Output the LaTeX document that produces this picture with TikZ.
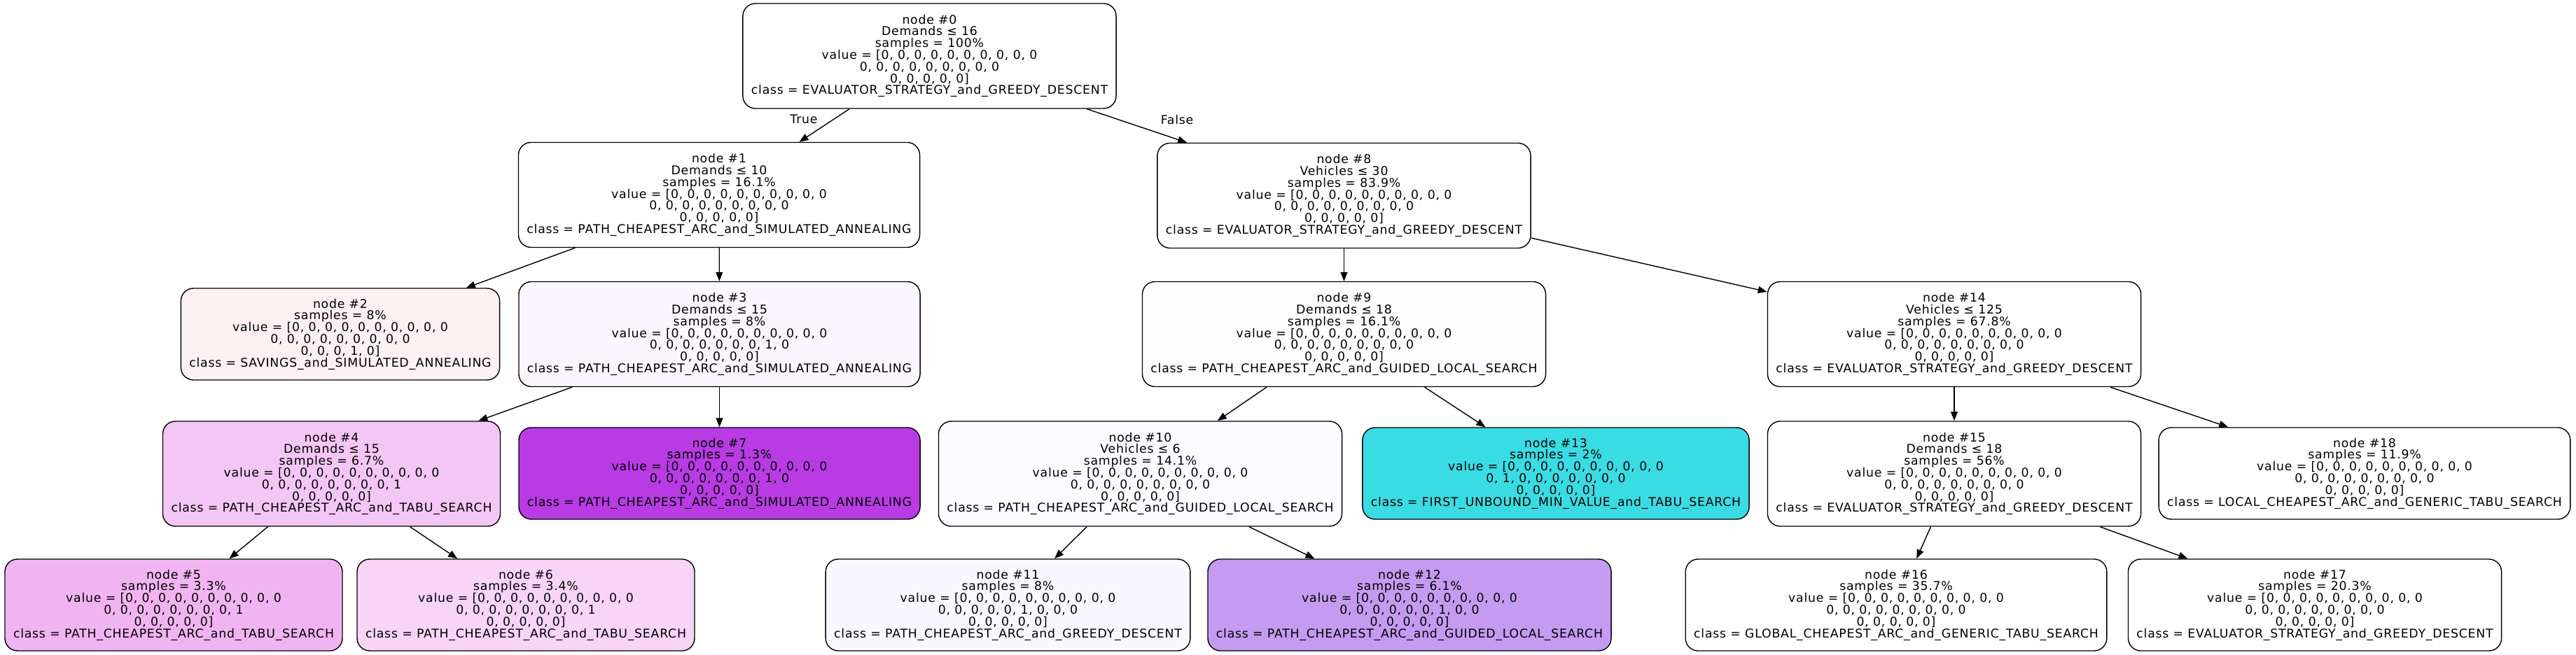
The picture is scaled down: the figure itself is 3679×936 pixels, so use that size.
\documentclass[tikz,border=0pt]{standalone}
\usepackage{fontspec}
\setmainfont{DejaVu Sans}[LetterSpace=4.4]
\usetikzlibrary{arrows.meta}
\definecolor{c2}{HTML}{FDF1F3}
\definecolor{c3}{HTML}{FBF5FD}
\definecolor{c4}{HTML}{F4C6F5}
\definecolor{c5}{HTML}{F1B4F2}
\definecolor{c6}{HTML}{F8D4F7}
\definecolor{c7}{HTML}{B93BE4}
\definecolor{c9}{HTML}{FDFDFF}
\definecolor{c10}{HTML}{FCFBFF}
\definecolor{c11}{HTML}{F9F8FE}
\definecolor{c12}{HTML}{C49BF1}
\definecolor{c13}{HTML}{3ADCE4}
\tikzset{
  tn/.style={draw=black, line width=1.4pt, rounded corners=18pt, align=center,
    inner xsep=12pt, inner ysep=0pt, fill=white,
    font=\fontsize{17.3}{16.8}\selectfont},
  bigbox/.style={tn, minimum height=150pt},
  smallbox/.style={tn, minimum height=131pt},
  conn/.style={line width=1.4pt, -{Triangle[length=13pt,width=10pt]}},
  elabel/.style={font=\fontsize{17.3}{16.8}\selectfont, inner sep=0pt}
}
\newcommand{\zr}{0, 0, 0, 0, 0, 0, 0, 0, 0}
\begin{document}
\begin{tikzpicture}[x=1pt,y=-1pt]
\useasboundingbox (0,0) rectangle (3679,936);
% row 0
\node[bigbox] (n0) at (1327.5,80) {node \#0\\Demands ≤ 16\\samples = 100\%\\value = [\zr, 0\\\zr\\0, 0, 0, 0, 0]\\class = EVALUATOR\_STRATEGY\_and\_GREEDY\_DESCENT};
% row 1
\node[bigbox] (n1) at (1027,278.5) {node \#1\\Demands ≤ 10\\samples = 16.1\%\\value = [\zr, 0\\\zr\\0, 0, 0, 0, 0]\\class = PATH\_CHEAPEST\_ARC\_and\_SIMULATED\_ANNEALING};
\node[bigbox] (n8) at (1919.5,279.5) {node \#8\\Vehicles ≤ 30\\samples = 83.9\%\\value = [\zr, 0\\\zr\\0, 0, 0, 0, 0]\\class = EVALUATOR\_STRATEGY\_and\_GREEDY\_DESCENT};
% row 2
\node[smallbox, fill=c2] (n2) at (486,477.5) {node \#2\\samples = 8\%\\value = [\zr, 0\\\zr\\0, 0, 0, 1, 0]\\class = SAVINGS\_and\_SIMULATED\_ANNEALING};
\node[bigbox, fill=c3] (n3) at (1027.5,477.5) {node \#3\\Demands ≤ 15\\samples = 8\%\\value = [\zr, 0\\0, 0, 0, 0, 0, 0, 0, 1, 0\\0, 0, 0, 0, 0]\\class = PATH\_CHEAPEST\_ARC\_and\_SIMULATED\_ANNEALING};
\node[bigbox, fill=c9] (n9) at (1919.5,477.5) {node \#9\\Demands ≤ 18\\samples = 16.1\%\\value = [\zr, 0\\\zr\\0, 0, 0, 0, 0]\\class = PATH\_CHEAPEST\_ARC\_and\_GUIDED\_LOCAL\_SEARCH};
\node[bigbox] (n14) at (2791,477.5) {node \#14\\Vehicles ≤ 125\\samples = 67.8\%\\value = [\zr, 0\\\zr\\0, 0, 0, 0, 0]\\class = EVALUATOR\_STRATEGY\_and\_GREEDY\_DESCENT};
% row 3
\node[bigbox, fill=c4] (n4) at (473.5,677) {node \#4\\Demands ≤ 15\\samples = 6.7\%\\value = [\zr, 0\\0, 0, 0, 0, 0, 0, 0, 0, 1\\0, 0, 0, 0, 0]\\class = PATH\_CHEAPEST\_ARC\_and\_TABU\_SEARCH};
\node[smallbox, fill=c7] (n7) at (1027.5,676.5) {node \#7\\samples = 1.3\%\\value = [\zr, 0\\0, 0, 0, 0, 0, 0, 0, 1, 0\\0, 0, 0, 0, 0]\\class = PATH\_CHEAPEST\_ARC\_and\_SIMULATED\_ANNEALING};
\node[bigbox, fill=c10] (n10) at (1628.5,677) {node \#10\\Vehicles ≤ 6\\samples = 14.1\%\\value = [\zr, 0\\\zr\\0, 0, 0, 0, 0]\\class = PATH\_CHEAPEST\_ARC\_and\_GUIDED\_LOCAL\_SEARCH};
\node[smallbox, fill=c13] (n13) at (2222,676.5) {node \#13\\samples = 2\%\\value = [\zr, 0\\0, 1, 0, 0, 0, 0, 0, 0, 0\\0, 0, 0, 0, 0]\\class = FIRST\_UNBOUND\_MIN\_VALUE\_and\_TABU\_SEARCH};
\node[bigbox] (n15) at (2791,677) {node \#15\\Demands ≤ 18\\samples = 56\%\\value = [\zr, 0\\\zr\\0, 0, 0, 0, 0]\\class = EVALUATOR\_STRATEGY\_and\_GREEDY\_DESCENT};
\node[smallbox] (n18) at (3377,676.5) {node \#18\\samples = 11.9\%\\value = [\zr, 0\\\zr\\0, 0, 0, 0, 0]\\class = LOCAL\_CHEAPEST\_ARC\_and\_GENERIC\_TABU\_SEARCH};
% row 4
\node[smallbox, fill=c5] (n5) at (248,864.5) {node \#5\\samples = 3.3\%\\value = [\zr, 0\\0, 0, 0, 0, 0, 0, 0, 0, 1\\0, 0, 0, 0, 0]\\class = PATH\_CHEAPEST\_ARC\_and\_TABU\_SEARCH};
\node[smallbox, fill=c6] (n6) at (751,864.5) {node \#6\\samples = 3.4\%\\value = [\zr, 0\\0, 0, 0, 0, 0, 0, 0, 0, 1\\0, 0, 0, 0, 0]\\class = PATH\_CHEAPEST\_ARC\_and\_TABU\_SEARCH};
\node[smallbox, fill=c11] (n11) at (1439.5,864.5) {node \#11\\samples = 8\%\\value = [\zr, 0\\0, 0, 0, 0, 0, 1, 0, 0, 0\\0, 0, 0, 0, 0]\\class = PATH\_CHEAPEST\_ARC\_and\_GREEDY\_DESCENT};
\node[smallbox, fill=c12] (n12) at (2013,864.5) {node \#12\\samples = 6.1\%\\value = [\zr, 0\\0, 0, 0, 0, 0, 0, 1, 0, 0\\0, 0, 0, 0, 0]\\class = PATH\_CHEAPEST\_ARC\_and\_GUIDED\_LOCAL\_SEARCH};
\node[smallbox] (n16) at (2708,864.5) {node \#16\\samples = 35.7\%\\value = [\zr, 0\\\zr\\0, 0, 0, 0, 0]\\class = GLOBAL\_CHEAPEST\_ARC\_and\_GENERIC\_TABU\_SEARCH};
\node[smallbox] (n17) at (3306,864.5) {node \#17\\samples = 20.3\%\\value = [\zr, 0\\\zr\\0, 0, 0, 0, 0]\\class = EVALUATOR\_STRATEGY\_and\_GREEDY\_DESCENT};
% edges
\draw[conn] (n0) -- (n1);
\draw[conn] (n0) -- (n8);
\draw[conn] (n1) -- (n2);
\draw[conn] (n1) -- (n3);
\draw[conn] (n3) -- (n4);
\draw[conn] (n3) -- (n7);
\draw[conn] (n4) -- (n5);
\draw[conn] (n4) -- (n6);
\draw[conn] (n8) -- (n9);
\draw[conn] (n8) -- (n14);
\draw[conn] (n9) -- (n10);
\draw[conn] (n9) -- (n13);
\draw[conn] (n10) -- (n11);
\draw[conn] (n10) -- (n12);
\draw[conn] (n14) -- (n15);
\draw[conn] (n14) -- (n18);
\draw[conn] (n15) -- (n16);
\draw[conn] (n15) -- (n17);
\node[elabel] (lt) at (1148,170) {True};
\node[elabel] (lf) at (1681,171) {False};
\end{tikzpicture}
\end{document}
